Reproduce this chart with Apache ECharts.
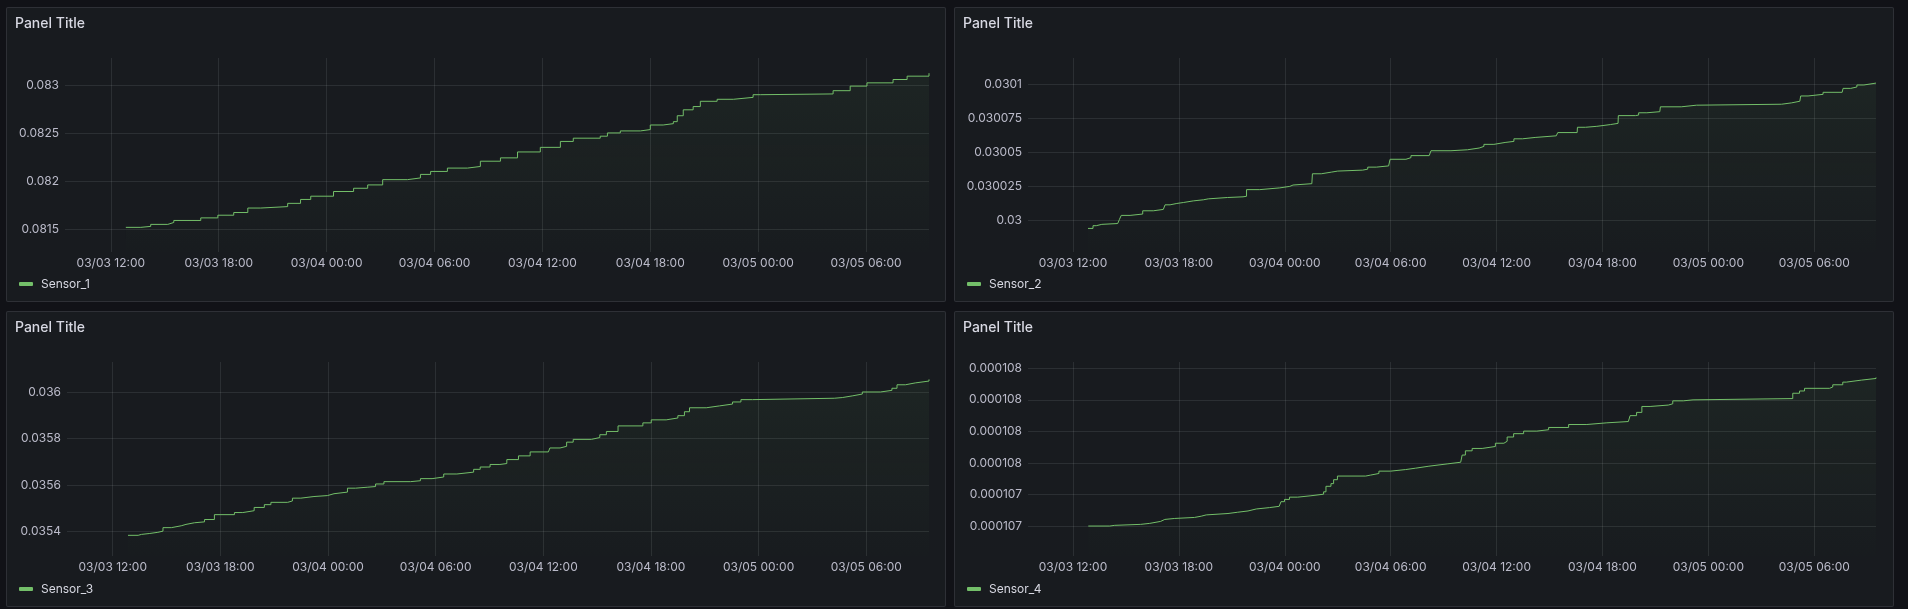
<!DOCTYPE html>
<html>
<head>
<meta charset="utf-8">
<script src="https://cdn.jsdelivr.net/npm/echarts@6/dist/echarts.min.js"></script>
<style>
  html, body { margin: 0; padding: 0; background: #111217; width: 1908px; height: 609px; overflow: hidden; }
  .panel { position: absolute; background: #181b1f; border: 1px solid rgba(204,204,220,0.12); border-radius: 2px; box-sizing: border-box; }
  .chart { position: absolute; left: 0; top: 0; width: 100%; height: 100%; }
</style>
</head>
<body>
<div class="panel" id="p1" style="left:6px;top:7px;width:940px;height:295px;"><div class="chart" id="c1"></div></div>
<div class="panel" id="p2" style="left:954px;top:7px;width:940px;height:295px;"><div class="chart" id="c2"></div></div>
<div class="panel" id="p3" style="left:6px;top:311px;width:940px;height:296px;"><div class="chart" id="c3"></div></div>
<div class="panel" id="p4" style="left:954px;top:311px;width:940px;height:296px;"><div class="chart" id="c4"></div></div>
<script>
// ---- data ----
const panelTitles = ['Panel Title', 'Panel Title', 'Panel Title', 'Panel Title'];
const seriesNames = ['Sensor_1', 'Sensor_2', 'Sensor_3', 'Sensor_4'];
const year = 2024;
const xRange = ['03-03 09:27', '03-05 09:30'];
const xTicks = ['03-03 12:00', '03-03 18:00', '03-04 00:00', '03-04 06:00', '03-04 12:00', '03-04 18:00', '03-05 00:00', '03-05 06:00'];

const s1Times = ['03-03 12:50','03-03 13:40','03-03 14:13','03-03 15:10','03-03 15:30','03-03 17:00','03-03 17:57','03-03 18:50','03-03 19:37','03-03 20:20','03-03 21:50','03-03 22:33','03-03 23:07','03-04 00:23','03-04 01:30','03-04 02:17','03-04 03:07','03-04 04:30','03-04 05:13','03-04 05:47','03-04 06:43','03-04 07:50','03-04 08:33','03-04 09:40','03-04 10:37','03-04 11:53','03-04 13:00','03-04 13:43','03-04 15:13','03-04 15:37','03-04 16:20','03-04 17:27','03-04 18:00','03-04 18:43','03-04 19:17','03-04 19:30','03-04 19:50','03-04 20:23','03-04 20:47','03-04 21:43','03-04 22:37','03-04 23:43','03-05 00:07','03-05 04:10','03-05 05:07','03-05 06:03','03-05 07:30','03-05 08:17','03-05 09:30'];
const s1Values = [0.081518,0.081528,0.081549,0.081569,0.08159,0.081617,0.081645,0.081673,0.08172,0.081735,0.081769,0.08181,0.081844,0.081893,0.081927,0.081962,0.082017,0.082035,0.082072,0.082103,0.082138,0.082155,0.08221,0.082245,0.082307,0.082355,0.082417,0.082451,0.082472,0.082506,0.082527,0.082541,0.082589,0.082603,0.082624,0.082686,0.082748,0.082782,0.082837,0.082858,0.082878,0.082906,0.082914,0.082948,0.082996,0.08303,0.083065,0.0831,0.083131];
const y1Ticks = [0.0815, 0.082, 0.0825, 0.083];
const y1Range = [0.08126, 0.08329];

const s2Times = ['03-03 12:51','03-03 13:08','03-03 13:19','03-03 13:38','03-03 14:32','03-03 14:38','03-03 14:44','03-03 15:14','03-03 15:57','03-03 16:33','03-03 17:07','03-03 17:13','03-03 17:30','03-03 17:53','03-03 18:15','03-03 18:49','03-03 19:23','03-03 19:40','03-03 20:45','03-03 21:38','03-03 21:50','03-03 22:35','03-03 23:43','03-04 00:17','03-04 00:28','03-04 01:32','03-04 01:34','03-04 02:04','03-04 02:38','03-04 03:00','03-04 04:25','03-04 04:42','03-04 05:11','03-04 05:53','03-04 05:58','03-04 06:52','03-04 07:09','03-04 08:11','03-04 08:17','03-04 09:25','03-04 10:21','03-04 11:01','03-04 11:17','03-04 11:51','03-04 12:29','03-04 12:59','03-04 13:28','03-04 14:11','03-04 15:23','03-04 15:28','03-04 16:34','03-04 16:35','03-04 17:02','03-04 17:41','03-04 18:27','03-04 18:53','03-04 18:54','03-04 19:52','03-04 20:03','03-04 20:31','03-04 21:15','03-04 21:17','03-04 22:28','03-04 23:20','03-05 04:09','03-05 04:43','03-05 05:11','03-05 05:14','03-05 05:39','03-05 06:30','03-05 07:35','03-05 07:38','03-05 08:04','03-05 08:25','03-05 08:49','03-05 09:30'];
const s2Values = [0.029994,0.029996,0.029997,0.0299976,0.0299983,0.0300007,0.0300036,0.0300046,0.030007,0.030008,0.030009,0.0300114,0.0300124,0.0300131,0.0300143,0.0300151,0.0300158,0.0300168,0.0300173,0.0300177,0.0300226,0.0300239,0.030025,0.030026,0.030027,0.0300277,0.0300343,0.0300355,0.0300363,0.030037,0.0300377,0.0300392,0.0300401,0.0300414,0.030045,0.0300462,0.0300477,0.030048,0.0300513,0.030052,0.0300533,0.0300545,0.030056,0.0300574,0.0300582,0.0300601,0.0300611,0.0300623,0.030063,0.0300647,0.0300652,0.0300686,0.0300693,0.0300706,0.0300715,0.0300723,0.0300772,0.0300776,0.0300793,0.0300801,0.0300803,0.0300837,0.0300849,0.0300856,0.0300866,0.0300878,0.0300888,0.0300917,0.0300929,0.0300944,0.0300954,0.0300973,0.0300983,0.0300998,0.0301012,0.0301012];
const y2Ticks = [0.03, 0.030025, 0.03005, 0.030075, 0.0301];
const y2Range = [0.0299766, 0.0301197];

const s3Times = ['03-03 12:51','03-03 13:25','03-03 13:36','03-03 14:04','03-03 14:31','03-03 14:48','03-03 15:16','03-03 15:49','03-03 16:05','03-03 16:33','03-03 17:07','03-03 17:40','03-03 18:47','03-03 19:15','03-03 19:53','03-03 20:27','03-03 20:49','03-03 21:45','03-03 22:01','03-03 22:29','03-03 23:13','03-03 23:58','03-04 00:20','03-04 01:05','03-04 01:32','03-04 02:11','03-04 02:39','03-04 03:07','03-04 04:36','03-04 05:09','03-04 05:48','03-04 06:27','03-04 07:11','03-04 08:07','03-04 08:29','03-04 09:02','03-04 09:35','03-04 09:58','03-04 10:37','03-04 11:16','03-04 12:17','03-04 12:22','03-04 12:56','03-04 13:18','03-04 13:40','03-04 14:41','03-04 15:09','03-04 15:31','03-04 16:10','03-04 17:33','03-04 18:01','03-04 18:51','03-04 19:30','03-04 19:52','03-04 20:09','03-04 21:05','03-04 21:49','03-04 22:33','03-04 23:01','03-04 23:40','03-05 04:13','03-05 04:40','03-05 05:13','03-05 05:47','03-05 06:48','03-05 07:26','03-05 07:43','03-05 08:11','03-05 08:44','03-05 09:30'];
const s3Values = [0.035383,0.035387,0.035391,0.035396,0.035401,0.035416,0.035424,0.03543,0.035437,0.035441,0.035451,0.035472,0.035481,0.035489,0.035503,0.035515,0.035525,0.035531,0.035543,0.03555,0.035554,0.035562,0.035569,0.035586,0.03559,0.035593,0.035604,0.035614,0.035618,0.035627,0.035634,0.035647,0.035655,0.035667,0.035677,0.035688,0.035692,0.035709,0.035725,0.035742,0.035748,0.035759,0.035766,0.035784,0.035796,0.035804,0.035816,0.03583,0.035854,0.035867,0.03588,0.035888,0.035898,0.035915,0.035932,0.03594,0.035948,0.035957,0.035967,0.035973,0.035976,0.035983,0.035991,0.036,0.036007,0.036016,0.036031,0.036039,0.036047,0.036054];
const y3Ticks = [0.0354, 0.0356, 0.0358, 0.036];
const y3Range = [0.035294, 0.036129];

const s4Times = ['03-03 12:52','03-03 14:05','03-03 14:22','03-03 15:50','03-03 16:21','03-03 16:58','03-03 17:12','03-03 17:46','03-03 18:53','03-03 19:16','03-03 19:33','03-03 20:47','03-03 21:20','03-03 21:55','03-03 22:23','03-03 23:08','03-03 23:41','03-03 23:47','03-03 23:59','03-04 00:16','03-04 00:44','03-04 01:29','03-04 02:12','03-04 02:20','03-04 02:37','03-04 02:46','03-04 02:59','03-04 04:35','03-04 04:52','03-04 05:20','03-04 06:00','03-04 06:51','03-04 07:25','03-04 08:10','03-04 08:16','03-04 09:12','03-04 09:58','03-04 10:03','03-04 10:14','03-04 10:37','03-04 11:11','03-04 11:56','03-04 12:25','03-04 12:36','03-04 12:58','03-04 13:32','03-04 14:17','03-04 14:57','03-04 16:05','03-04 17:07','03-04 18:15','03-04 19:28','03-04 19:34','03-04 19:56','03-04 20:14','03-04 20:42','03-04 21:44','03-04 21:59','03-04 22:35','03-04 23:08','03-05 04:47','03-05 05:10','03-05 05:27','03-05 06:52','03-05 07:03','03-05 07:37','03-05 07:49','03-05 08:40','03-05 09:30'];
const s4Values = [0.0001072,0.0001072044,0.0001072106,0.0001072169,0.0001072294,0.0001072419,0.0001072481,0.0001072544,0.0001072625,0.0001072706,0.0001072794,0.0001072875,0.0001072956,0.0001073081,0.0001073169,0.000107325,0.0001073375,0.0001073544,0.0001073688,0.0001073831,0.0001073919,0.0001074019,0.0001074169,0.0001074519,0.0001074688,0.0001074938,0.0001075169,0.0001075231,0.0001075331,0.0001075481,0.0001075581,0.0001075669,0.0001075794,0.0001075894,0.0001075938,0.0001076044,0.0001076125,0.00010765,0.0001076769,0.0001076919,0.0001077044,0.000107725,0.0001077375,0.0001077644,0.0001077856,0.0001078019,0.0001078106,0.000107825,0.0001078438,0.0001078544,0.0001078625,0.0001078688,0.0001079,0.0001079206,0.0001079581,0.0001079669,0.000107975,0.0001079938,0.000108,0.0001080081,0.0001080419,0.0001080563,0.0001080731,0.0001080813,0.0001080956,0.0001081125,0.000108125,0.0001081356,0.0001081419];
const y4Ticks = [0.0001072, 0.0001074, 0.0001076, 0.0001078, 0.000108, 0.0001082];
const y4Range = [0.00010701, 0.00010824];

// ---- helpers ----
function ts(s) {
  const m = s.match(/(\d+)-(\d+) (\d+):(\d+)/);
  return new Date(year, +m[1] - 1, +m[2], +m[3], +m[4]).getTime();
}
function pad(n) { return (n < 10 ? '0' : '') + n; }
function fmtTime(v) {
  const d = new Date(v);
  return pad(d.getMonth() + 1) + '/' + pad(d.getDate()) + ' ' + pad(d.getHours()) + ':' + pad(d.getMinutes());
}
function fmtVal(v) { return String(parseFloat(Number(v).toFixed(6))); }

const FONT = 'Inter, "Noto Sans", sans-serif';
const TEXT = '#d8d9e3';
const AXIS_TEXT = 'rgba(204,204,220,0.9)';
const GRID = 'rgba(240,250,255,0.09)';
const GREEN = '#73BF69';

const panels = [
  { el: 'c1', title: panelTitles[0], name: seriesNames[0], times: s1Times, values: s1Values, yTicks: y1Ticks, yRange: y1Range, left: 58, right: 16, bottom: 49 },
  { el: 'c2', title: panelTitles[1], name: seriesNames[1], times: s2Times, values: s2Values, yTicks: y2Ticks, yRange: y2Range, left: 73, right: 17, bottom: 49 },
  { el: 'c3', title: panelTitles[2], name: seriesNames[2], times: s3Times, values: s3Values, yTicks: y3Ticks, yRange: y3Range, left: 60, right: 16, bottom: 50 },
  { el: 'c4', title: panelTitles[3], name: seriesNames[3], times: s4Times, values: s4Values, yTicks: y4Ticks, yRange: y4Range, left: 73, right: 17, bottom: 50 }
];

panels.forEach(p => {
  const chart = echarts.init(document.getElementById(p.el), null, { renderer: 'canvas' });
  const xt = xTicks.map(ts);
  chart.setOption({
    animation: false,
    backgroundColor: 'transparent',
    textStyle: { fontFamily: FONT },
    title: {
      text: p.title, left: 8, top: 9, padding: 0,
      textStyle: { color: TEXT, fontSize: 14, fontWeight: 500, fontFamily: FONT }
    },
    legend: {
      data: [p.name], left: 12, top: p.bottom === 49 ? 270 : 271, padding: 0,
      icon: 'roundRect', itemWidth: 14, itemHeight: 4,
      textStyle: { color: TEXT, fontSize: 12, fontFamily: FONT, padding: [0, 0, 0, 3] },
      selectedMode: false
    },
    grid: { left: p.left, right: p.right, top: 50, bottom: p.bottom, containLabel: false, outerBoundsMode: 'none' },
    xAxis: {
      type: 'value',
      min: ts(xRange[0]), max: ts(xRange[1]),
      axisLine: { show: false },
      axisTick: { show: false, customValues: xt },
      axisLabel: { customValues: xt, formatter: fmtTime, color: AXIS_TEXT, fontSize: 12, margin: 5, fontFamily: FONT },
      splitLine: { show: true, lineStyle: { color: GRID, width: 1 } }
    },
    yAxis: {
      type: 'value',
      min: p.yRange[0], max: p.yRange[1],
      axisLine: { show: false },
      axisTick: { show: false, customValues: p.yTicks },
      axisLabel: { customValues: p.yTicks, formatter: fmtVal, color: AXIS_TEXT, fontSize: 12, margin: 6, fontFamily: FONT },
      splitLine: { show: true, lineStyle: { color: GRID, width: 1 } }
    },
    series: [{
      name: p.name, type: 'line', step: 'end', showSymbol: false, silent: true,
      data: p.times.map((t, i) => [ts(t), p.values[i]]),
      lineStyle: { color: GREEN, width: 1 },
      itemStyle: { color: GREEN },
      areaStyle: {
        origin: 'start',
        color: { type: 'linear', x: 0, y: 0, x2: 0, y2: 1, colorStops: [
          { offset: 0, color: 'rgba(115,191,105,0.09)' },
          { offset: 1, color: 'rgba(115,191,105,0.01)' }
        ] }
      }
    }]
  });
});
</script>
</body>
</html>
